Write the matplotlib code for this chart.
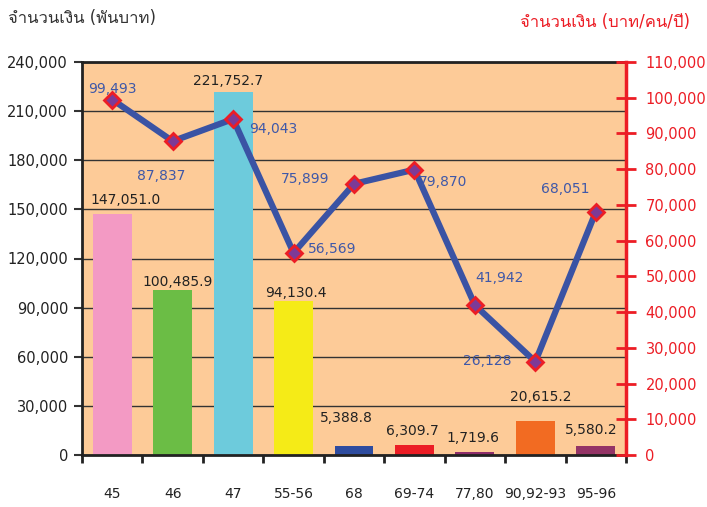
import numpy as np
import matplotlib
matplotlib.use('Agg')
import matplotlib.pyplot as plt
from matplotlib import font_manager
from matplotlib.ft2font import FT2Font
from matplotlib.ticker import FuncFormatter

# data
categories = ['45', '46', '47', '55-56', '68', '69-74', '77,80', '90,92-93', '95-96']
amount = [147051.0, 100485.9, 221752.7, 94130.4, 5388.8, 6309.7, 1719.6, 20615.2, 5580.2]
per_person = [99493, 87837, 94043, 56569, 75899, 79870, 41942, 26128, 68051]
bar_colors = ['#F39AC4', '#6BBD45', '#6DCBDC', '#F5EB17', '#2E4C9F',
              '#EC1D25', '#8E2D6A', '#F26B22', '#943466']

# label offsets in pixels (dx, dy)
bar_offsets = [(13, 14), (5, 8), (-5, 11), (2, 8), (-8, 28), (-2, 14), (-2, 14), (5, 24), (-5, 16)]
line_offsets = [(0, 11), (-11, -35), (40, -10), (39, 4), (-49, 5), (29, -12),
                (25, 27), (-48, 1), (-31, 23)]


# font with thai glyphs
def find_thai_font():
    for f in font_manager.fontManager.ttflist:
        try:
            if 0x0E08 in FT2Font(f.fname).get_charmap():
                return f.name
        except Exception:
            pass
    return None


thai = find_thai_font()
fams = ['DejaVu Sans'] + ([thai] if thai else [])
plt.rcParams['font.family'] = fams

fig = plt.figure(figsize=(7.07, 5.07), dpi=100)
ax = fig.add_axes([82 / 707, 52 / 507, 544 / 707, 393 / 507])
ax2 = ax.twinx()

x = np.arange(len(categories))
ax.set_facecolor('#FDCB98')
ax.bar(x, amount, width=0.645, color=bar_colors, zorder=2)
ax.set_xlim(-0.5, len(categories) - 0.5)
ax.set_ylim(0, 240000)
ax.set_yticks(np.arange(0, 240001, 30000))
ax.yaxis.set_major_formatter(FuncFormatter(lambda v, p: f'{v:,.0f}'))
ax.grid(axis='y', color='#333333', linewidth=1, zorder=1)
ax.set_axisbelow(True)
ax.tick_params(axis='y', direction='out', length=6, width=1.5, color='#333333',
               labelsize=10.5, labelcolor='#222222', pad=4)
ax.set_xticks(x)
ax.set_xticklabels(categories)
ax.set_xticks(np.arange(-0.5, len(categories)), minor=True)
ax.tick_params(axis='x', which='major', length=0, pad=23, labelsize=10, labelcolor='#222222')
ax.tick_params(axis='x', which='minor', direction='out', length=6, width=2, color='#222222')
for s in ['left', 'bottom', 'top']:
    ax.spines[s].set_linewidth(2)
    ax.spines[s].set_color('#222222')
ax.spines['right'].set_visible(False)

for i, v in enumerate(amount):
    ax.annotate(f'{v:,.1f}', (x[i], v), xytext=(bar_offsets[i][0], bar_offsets[i][1]),
                textcoords='offset pixels', ha='center', va='center',
                fontsize=10, color='#222222', zorder=5)

ax2.plot(x, per_person, color='#3A53A4', linewidth=4.5, marker='D', markersize=8,
         markerfacecolor='#7D3A96', markeredgecolor='#EC1D25', markeredgewidth=2, zorder=4)
ax2.set_ylim(0, 110000)
ax2.set_yticks(np.arange(0, 110001, 10000))
ax2.yaxis.set_major_formatter(FuncFormatter(lambda v, p: f'{v:,.0f}'))
ax2.tick_params(axis='y', direction='inout', length=14, width=2, color='#EC1D25',
                labelsize=10.5, labelcolor='#EC1D25', pad=7)
ax2.spines['right'].set_color('#EC1D25')
ax2.spines['right'].set_linewidth(2.5)
for s in ['left', 'bottom', 'top']:
    ax2.spines[s].set_visible(False)

for i, v in enumerate(per_person):
    ax2.annotate(f'{v:,}', (x[i], v), xytext=(line_offsets[i][0], line_offsets[i][1]),
                 textcoords='offset pixels', ha='center', va='center',
                 fontsize=10, color='#3F58A8', zorder=6)

fig.text(8 / 707, 1 - 18 / 507, 'จำนวนเงิน (พันบาท)', ha='left', va='center',
         fontsize=12, color='#333333')
fig.text(690 / 707, 1 - 22 / 507, 'จำนวนเงิน (บาท/คน/ปี)', ha='right', va='center',
         fontsize=12, color='#EC1D25')

fig.savefig('out.png', dpi=100)
